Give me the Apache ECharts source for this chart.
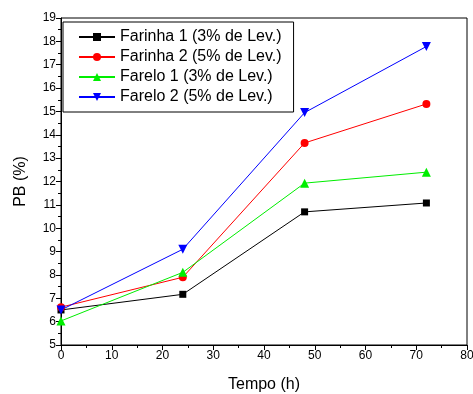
<!DOCTYPE html>
<html>
<head>
<meta charset="utf-8">
<script src="https://cdn.jsdelivr.net/npm/echarts@6/dist/echarts.min.js"></script>
<style>
  html, body { margin: 0; padding: 0; background: #fff; }
  #chart { width: 473px; height: 394px; }
</style>
</head>
<body>
<div id="chart"></div>
<script>
// data
const tempo = [0, 24, 48, 72]
const farinha1 = [6.5, 7.17, 10.7, 11.08]
const farinha2 = [6.62, 7.9, 13.65, 15.32]
const farelo1 = [6.03, 8.11, 11.93, 12.4]
const farelo2 = [6.5, 9.1, 14.95, 17.78]

const seriesDefs = [
  { name: "Farinha 1 (3% de Lev.)", data: farinha1, color: "#000000", symbol: "rect", size: 7, rotate: 0 },
  { name: "Farinha 2 (5% de Lev.)", data: farinha2, color: "#ff0000", symbol: "circle", size: 8, rotate: 0 },
  { name: "Farelo 1 (3% de Lev.)", data: farelo1, color: "#00ee00", symbol: "triangle", size: 9, rotate: 0 },
  { name: "Farelo 2 (5% de Lev.)", data: farelo2, color: "#0000ff", symbol: "triangle", size: 9, rotate: 180 },
]

const chart = echarts.init(document.getElementById("chart"))
const font = "Liberation Sans, Arial, sans-serif"

const axisCommon = {
  axisLine: { show: true, onZero: false, lineStyle: { color: "#000", width: 1 } },
  axisTick: { show: true, inside: false, length: 5, lineStyle: { color: "#000" } },
  minorTick: { show: true, splitNumber: 2, length: 3, lineStyle: { color: "#000" } },
  splitLine: { show: false },
  axisLabel: { color: "#000", fontSize: 12, fontFamily: font, margin: 5 },
  nameTextStyle: { color: "#000", fontSize: 16, fontFamily: font },
}

chart.setOption({
  animation: false,
  backgroundColor: "#fff",
  grid: {
    left: 61, right: 6, top: 18, bottom: 49,
    outerBoundsMode: "none",
    containLabel: false,
    show: true, borderColor: "#000", borderWidth: 1,
  },
  legend: {
    left: 63, top: 22,
    orient: "vertical",
    itemWidth: 36, itemHeight: 10, itemGap: 4,
    padding: [7, 12, 7, 15],
    borderColor: "#000", borderWidth: 1,
    backgroundColor: "#fff",
    textStyle: { color: "#000", fontSize: 16, fontFamily: font },
    data: seriesDefs.map((s) => s.name),
  },
  xAxis: {
    type: "value",
    min: 0, max: 80, interval: 10,
    name: "Tempo (h)",
    nameLocation: "middle",
    nameGap: 32,
    ...axisCommon,
  },
  yAxis: {
    type: "value",
    min: 5, max: 19, interval: 1,
    name: "PB (%)",
    nameLocation: "middle",
    nameGap: 32,
    ...axisCommon,
  },
  series: seriesDefs.map((s) => ({
    name: s.name,
    type: "line",
    data: tempo.map((t, i) => [t, s.data[i]]),
    symbol: s.symbol,
    symbolSize: s.size,
    symbolRotate: s.rotate,
    showAllSymbol: true,
    lineStyle: { color: s.color, width: 1 },
    itemStyle: { color: s.color },
  })),
})
</script>
</body>
</html>
